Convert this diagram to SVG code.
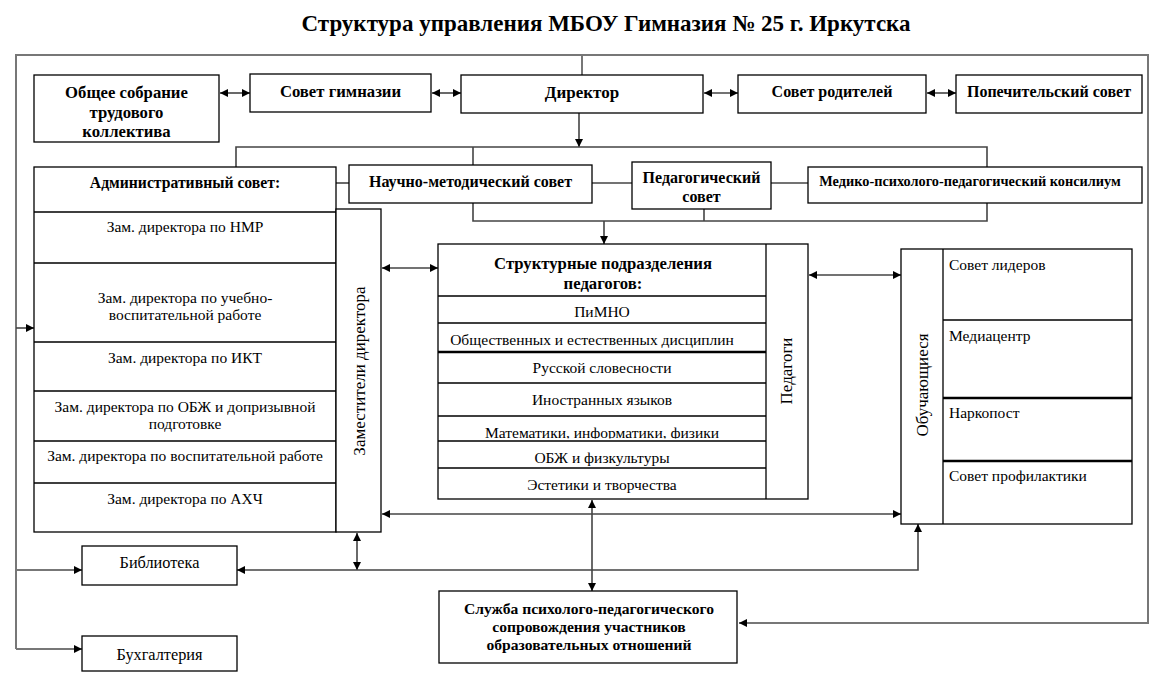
<svg xmlns="http://www.w3.org/2000/svg" width="1170" height="692" viewBox="0 0 1170 692">
<style>
text{font-family:"Liberation Serif","Times New Roman",serif;fill:#000}
.t{font-size:23px;font-weight:bold}
.h{font-size:16px;font-weight:bold}
.h2{font-size:16.7px;font-weight:bold}
.m{font-size:14.3px;font-weight:bold}
.s{font-size:15.6px;font-weight:bold}
.r{font-size:15.5px}
.r2{font-size:16.3px}
.v{font-size:17px}
.c{text-anchor:middle}
.box{fill:#fff;stroke:#000;stroke-width:1.3}
.ln{fill:none;stroke:#000;stroke-width:1.3}
.thk{fill:none;stroke:#000;stroke-width:2.5}
.cn{fill:none;stroke:#444;stroke-width:1.6}
.fr{fill:none;stroke:#777;stroke-width:2}
</style>
<defs>
<marker id="a" viewBox="0 0 10 10" refX="10" refY="5" markerWidth="8" markerHeight="8" markerUnits="userSpaceOnUse" orient="auto-start-reverse">
<path d="M0,0 L10,5 L0,10 z" fill="#000"/>
</marker>
<clipPath id="c1"><rect x="438" y="416" width="328" height="22.5"/></clipPath>
<clipPath id="c2"><rect x="438" y="441" width="328" height="25"/></clipPath>
</defs>
<rect width="1170" height="692" fill="#fff"/>
<text class="t c" x="606" y="31">Структура управления МБОУ Гимназия № 25 г. Иркутска</text>

<g id="connectors">
<path class="fr" d="M16,649 V55 H1148 V623 H739" marker-end="url(#a)"/>
<path class="fr" d="M582,55 V75"/>
<path class="cn" d="M16,328 H34" marker-end="url(#a)"/>
<path class="fr" d="M16,570 H82" marker-end="url(#a)"/>
<path class="fr" d="M16,649 H82" marker-end="url(#a)"/>
<path class="cn" d="M220,93 H250" marker-start="url(#a)" marker-end="url(#a)"/>
<path class="cn" d="M432,93 H461" marker-start="url(#a)" marker-end="url(#a)"/>
<path class="cn" d="M704,93 H738" marker-start="url(#a)" marker-end="url(#a)"/>
<path class="cn" d="M927,93 H956" marker-start="url(#a)" marker-end="url(#a)"/>
<path class="cn" d="M579,113 V147" marker-end="url(#a)"/>
<path class="cn" d="M236,167 V147 H987 V167"/>
<path class="cn" d="M473,147 V165"/>
<path class="cn" d="M336,183 H349"/>
<path class="cn" d="M592,183 H632"/>
<path class="cn" d="M771,183 H808"/>
<path class="cn" d="M473,203 V221 H987 V203"/>
<path class="cn" d="M704,209 V221"/>
<path class="cn" d="M604,221 V244" marker-end="url(#a)"/>
<path class="cn" d="M382,268 H438" marker-start="url(#a)" marker-end="url(#a)"/>
<path class="cn" d="M809,275 H901" marker-start="url(#a)" marker-end="url(#a)"/>
<path class="cn" d="M382,514 H901" marker-start="url(#a)" marker-end="url(#a)"/>
<path class="cn" d="M357,533 V570" marker-start="url(#a)" marker-end="url(#a)"/>
<path class="cn" d="M918,524 V570 H237" marker-start="url(#a)" marker-end="url(#a)"/>
<path class="cn" d="M592,500 V591" marker-start="url(#a)" marker-end="url(#a)"/>
</g>

<g id="obshchee">
<rect class="box" x="34" y="75" width="185" height="67"/>
<text class="h2 c" x="126.5" y="98">Общее собрание</text>
<text class="h2 c" x="126.5" y="118">трудового</text>
<text class="h2 c" x="126.5" y="137">коллектива</text>
</g>
<g id="sovet-gimnazii">
<rect class="box" x="250" y="74" width="181" height="38"/>
<text class="h2 c" x="340.5" y="97">Совет гимназии</text>
</g>
<g id="direktor">
<rect class="box" x="461" y="75" width="242" height="38"/>
<text class="h2 c" x="582" y="98" style="font-size:17px">Директор</text>
</g>
<g id="sovet-roditelei">
<rect class="box" x="738" y="75" width="188" height="38"/>
<text class="h c" x="832" y="97">Совет родителей</text>
</g>
<g id="popechitelskii">
<rect class="box" x="956" y="75" width="186" height="38"/>
<text class="h c" x="1049" y="97">Попечительский совет</text>
</g>

<g id="admin">
<rect class="box" x="34" y="167" width="302" height="365"/>
<path class="ln" d="M34,212 H336 M34,263 H336 M34,342 H336 M34,391 H336 M34,441 H336 M34,483 H336"/>
<text class="h c" x="185" y="188" style="font-size:15.7px">Административный совет:</text>
<text class="r c" x="185" y="232">Зам. директора по НМР</text>
<text class="r c" x="185" y="303">Зам. директора по учебно-</text>
<text class="r c" x="185" y="320">воспитательной работе</text>
<text class="r c" x="185" y="363">Зам. директора по ИКТ</text>
<text class="r c" x="185" y="412">Зам. директора по ОБЖ и допризывной</text>
<text class="r c" x="185" y="429">подготовке</text>
<text class="r c" x="185" y="461">Зам. директора по воспитательной работе</text>
<text class="r c" x="185" y="504">Зам. директора по АХЧ</text>
</g>
<g id="zamestiteli">
<rect class="box" x="336" y="209" width="45" height="323"/>
<text class="v c" transform="translate(365,371) rotate(-90)">Заместители директора</text>
</g>

<g id="nauchno">
<rect class="box" x="349" y="165" width="243" height="38"/>
<text class="h c" x="470.5" y="187">Научно-методический совет</text>
</g>
<g id="pedsovet">
<rect class="box" x="632" y="162" width="139" height="47"/>
<text class="h c" x="701.5" y="183">Педагогический</text>
<text class="h c" x="701.5" y="202">совет</text>
</g>
<g id="mediko">
<rect class="box" x="808" y="167" width="334" height="36"/>
<text class="m c" x="970" y="186">Медико-психолого-педагогический консилиум</text>
</g>

<g id="strukturnye">
<rect class="box" x="438" y="244" width="370" height="255"/>
<path class="ln" d="M766,244 V499 M438,296 H766 M438,323 H766 M438,383 H766 M438,416 H766 M438,441 H766 M438,468 H766"/>
<path class="thk" d="M438,352 H766"/>
<text class="h2 c" x="603" y="269">Структурные подразделения</text>
<text class="h2 c" x="603" y="289">педагогов:</text>
<text class="r c" x="602" y="317">ПиМНО</text>
<text class="r c" x="592" y="345">Общественных и естественных дисциплин</text>
<text class="r c" x="602" y="373">Русской словесности</text>
<text class="r c" x="602" y="405">Иностранных языков</text>
<text class="r c" x="602" y="437.5" clip-path="url(#c1)">Математики, информатики, физики</text>
<text class="r c" x="602" y="463" clip-path="url(#c2)">ОБЖ и физкультуры</text>
<text class="r c" x="602" y="490">Эстетики и творчества</text>
<text class="v c" transform="translate(792,371) rotate(-90)">Педагоги</text>
</g>

<g id="obuchayushchiesya">
<rect class="box" x="901" y="249" width="231" height="275"/>
<path class="ln" d="M943,249 V524 M943,320 H1132"/>
<path class="thk" d="M943,398 H1132 M943,461 H1132"/>
<text class="v c" transform="translate(928,385) rotate(-90)">Обучающиеся</text>
<text class="r" x="949" y="270">Совет лидеров</text>
<text class="r" x="949" y="341">Медиацентр</text>
<text class="r" x="949" y="418">Наркопост</text>
<text class="r" x="949" y="481">Совет профилактики</text>
</g>

<g id="biblioteka">
<rect class="box" x="82" y="546" width="155" height="39"/>
<text class="r2 c" x="159.5" y="568">Библиотека</text>
</g>
<g id="buhgalteriya">
<rect class="box" x="82" y="636" width="155" height="35"/>
<text class="r2 c" x="159.5" y="660">Бухгалтерия</text>
</g>
<g id="sluzhba">
<rect class="box" x="439" y="591" width="298" height="72"/>
<text class="s c" x="589" y="614">Служба психолого-педагогического</text>
<text class="s c" x="589" y="632">сопровождения участников</text>
<text class="s c" x="589" y="650">образовательных отношений</text>
</g>
</svg>
